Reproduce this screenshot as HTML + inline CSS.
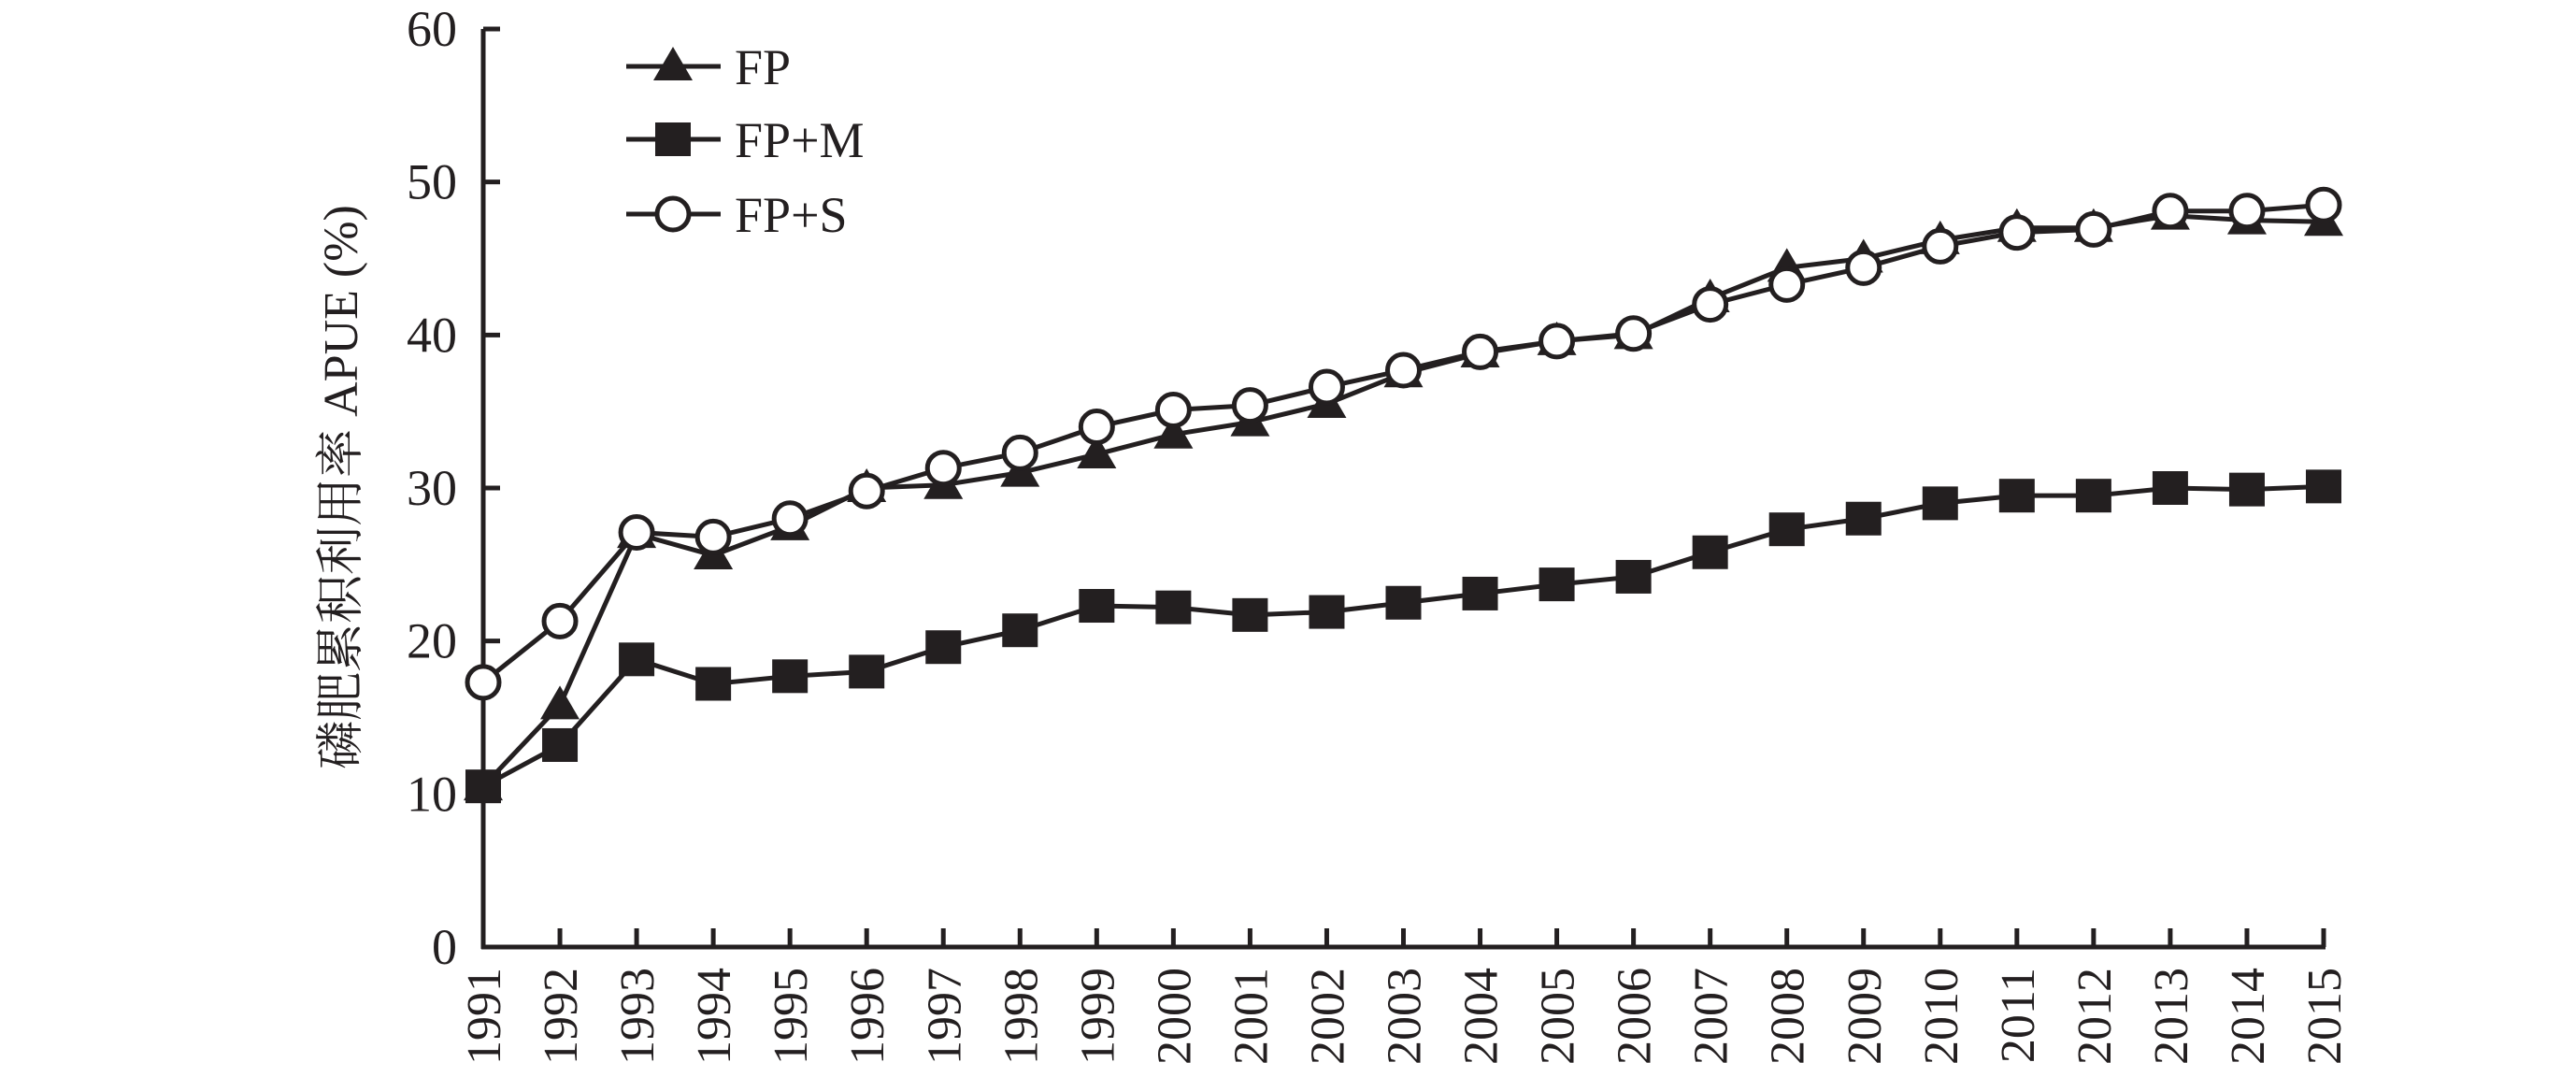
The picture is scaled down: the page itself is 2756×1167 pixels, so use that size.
<!DOCTYPE html>
<html><head><meta charset="utf-8"><style>
html,body{margin:0;padding:0;background:#fff;}
svg{display:block;}
text{font-family:"Liberation Serif","Noto Serif CJK SC",serif;fill:#231f20;}
</style></head><body>
<svg id="chart" width="2756" height="1167" viewBox="0 0 2756 1167" xmlns="http://www.w3.org/2000/svg">
<g id="axes"></g><g id="series"></g><g id="legend"></g>
<text transform="translate(382,521) rotate(-90)" text-anchor="middle" font-size="52">磷肥累积利用率 APUE (%)</text>
</svg>
<script>
const years=[1991,1992,1993,1994,1995,1996,1997,1998,1999,2000,2001,2002,2003,2004,2005,2006,2007,2008,2009,2010,2011,2012,2013,2014,2015];
const fpValues=[10.5,15.8,27,25.6,27.5,30,30.2,31,32.2,33.5,34.3,35.5,37.5,38.8,39.6,40,42.4,44.4,45,46.2,47,47,47.8,47.5,47.4];
const fpmValues=[10.5,13.2,18.8,17.2,17.7,18,19.6,20.7,22.3,22.2,21.7,21.9,22.5,23.1,23.7,24.2,25.8,27.3,28,29,29.5,29.5,30,29.9,30.1];
const fpsValues=[17.3,21.3,27.1,26.8,28,29.8,31.3,32.3,34,35.1,35.4,36.6,37.7,38.9,39.6,40.1,42,43.3,44.4,45.8,46.7,46.9,48.1,48.1,48.5];
const yTicks=[0,10,20,30,40,50,60];
const NS="http://www.w3.org/2000/svg";
const X0=517,X1=2486,Y0=1013,Y1=31,YMAX=60;
const xs=i=>X0+(X1-X0)*i/(years.length-1);
const ys=v=>Y0-(Y0-Y1)*v/YMAX;
function mk(tag,attrs,parent){const e=document.createElementNS(NS,tag);for(const k in attrs)e.setAttribute(k,attrs[k]);parent.appendChild(e);return e;}
const axes=document.getElementById('axes');
let e=mk('line',{x1:X0,y1:Y1,x2:X0,y2:Y0+2,stroke:'#231f20','stroke-width':5},axes);


e=mk('line',{x1:X0-2,y1:Y0,x2:X1+2,y2:Y0,stroke:'#231f20','stroke-width':5},axes);


yTicks.forEach(v=>{
 const t=mk('line',{x1:X0,y1:ys(v),x2:X0+18,y2:ys(v),stroke:'#231f20','stroke-width':5},axes);
 
 
 const l=mk('text',{x:X0-28,y:ys(v)+18,'text-anchor':'end','font-size':54},axes);
 l.textContent=v;
 
 
});
years.forEach((y,i)=>{
 const x=xs(i);
 const t=mk('line',{x1:x,y1:Y0,x2:x,y2:Y0-20,stroke:'#231f20','stroke-width':5},axes);
 
 
 const l=mk('text',{transform:`translate(${x+18},${Y0+22}) rotate(-90)`,'text-anchor':'end','font-size':52},axes);
 l.textContent=y;
 
 
});
function marker(type,x,y,g){
 let m;
 if(type==='tri') m=mk('polygon',{points:`${x},${y-21} ${x-21},${y+15} ${x+21},${y+15}`,fill:'#231f20'},g);
 else if(type==='sq') m=mk('rect',{x:x-19,y:y-18,width:38,height:36,fill:'#231f20'},g);
 else m=mk('circle',{cx:x,cy:y,r:17,fill:'#fff',stroke:'#231f20','stroke-width':5},g);
 return m;
}
const series=document.getElementById('series');
const defs=[['fp',fpValues,'tri'],['fp-m',fpmValues,'sq'],['fp-s',fpsValues,'circ']];
defs.forEach(([name,vals,type])=>{
 const g=mk('g',{},series);
 
 
 const p=mk('polyline',{points:vals.map((v,i)=>xs(i)+','+ys(v)).join(' '),fill:'none',stroke:'#231f20','stroke-width':5},g);
 
 
 vals.forEach((v,i)=>{
  const m=marker(type,xs(i),ys(v),g);
  
  
 });
});
const legend=document.getElementById('legend');
const labels=['FP','FP+M','FP+S'];
const ly=[71,149,229];
defs.forEach(([name,vals,type],k)=>{
 const g=mk('g',{},legend);
 
 
 mk('line',{x1:670,y1:ly[k],x2:771,y2:ly[k],stroke:'#231f20','stroke-width':5},g);
 marker(type,720,ly[k],g);
 const t=mk('text',{x:786,y:ly[k]+19,'font-size':54},g);
 t.textContent=labels[k];
});
</script>
</body></html>
